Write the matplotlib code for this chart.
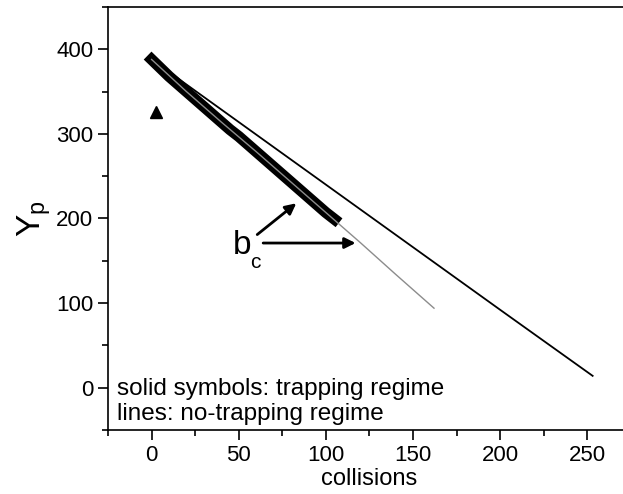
#!/usr/bin/env python3
# -*- coding: utf-8 -*-
"""
Y_p versus collisions: trapping (symbols) and no-trapping (lines) regimes
"""

import matplotlib.pyplot as plt
from matplotlib.ticker import MultipleLocator

plt.rcParams['font.family'] = ['Liberation Sans', 'DejaVu Sans']

# trapping regime (solid symbols)
trap_x = [0, 5, 10, 15, 20, 25, 30, 35, 40, 45, 50, 55, 60, 65, 70, 75,
          80, 85, 90, 95, 100, 105]
trap_y = [388, 378, 368, 359, 350, 341, 332, 323, 314, 305, 297, 288,
          279, 270, 261, 252, 243, 234, 225, 216, 207, 199]

# isolated trapping point
tri_x = [2.7]
tri_y = [326]

# no-trapping regime (lines)
gray_x = [0, 20, 40, 60, 80, 100, 120, 140, 162]
gray_y = [388, 350, 314, 279, 243, 207, 171, 134, 94]

black_x = [0, 50, 100, 150, 200, 253]
black_y = [388, 314, 240, 166, 92, 14]


def main():
    fig = plt.figure(figsize=(6.23, 4.94), dpi=100)
    ax = fig.add_axes([108 / 623, 64 / 494, 523 / 623, 423 / 494])

    # thick band of symbols
    ax.plot(trap_x, trap_y, color='black', linewidth=8,
            solid_capstyle='projecting', solid_joinstyle='miter', zorder=2)
    ax.plot(tri_x, tri_y, linestyle='none', marker='^', color='black',
            markersize=8, zorder=2)

    ax.plot(black_x, black_y, color='black', linewidth=1.3, zorder=3)
    ax.plot(gray_x, gray_y, color='#8c8c8c', linewidth=1.0, zorder=4)

    # b_c label with arrows
    ax.text(46.4, 158, 'b', fontsize=24, ha='left', va='baseline')
    ax.text(56.8, 142, 'c', fontsize=15, ha='left', va='baseline')
    arrow = dict(arrowstyle='-|>', color='black', lw=2, mutation_scale=16,
                 shrinkA=0, shrinkB=0)
    ax.annotate('', xy=(83, 218), xytext=(60.6, 181), arrowprops=arrow)
    ax.annotate('', xy=(117, 171), xytext=(64, 171), arrowprops=arrow)

    ax.text(-20, -2, 'solid symbols: trapping regime', fontsize=17.5,
            ha='left', va='center')
    ax.text(-20, -31, 'lines: no-trapping regime', fontsize=17.5,
            ha='left', va='center')

    ax.set_xlim(-25, 275)
    ax.set_ylim(-50, 450)
    ax.xaxis.set_major_locator(MultipleLocator(50))
    ax.xaxis.set_minor_locator(MultipleLocator(25))
    ax.yaxis.set_major_locator(MultipleLocator(100))
    ax.yaxis.set_minor_locator(MultipleLocator(50))
    ax.tick_params(which='major', direction='out', length=7, width=1.2,
                   labelsize=16)
    ax.tick_params(which='minor', direction='out', length=4, width=1.2)
    for s in ax.spines.values():
        s.set_linewidth(1.2)

    ax.set_xlabel('collisions', fontsize=17, labelpad=2)
    ax.set_ylabel('Y$_\\mathregular{p}$', fontsize=24, labelpad=2)

    fig.savefig('out.png', dpi=100)
    plt.close(fig)


if __name__ == "__main__":
    main()
